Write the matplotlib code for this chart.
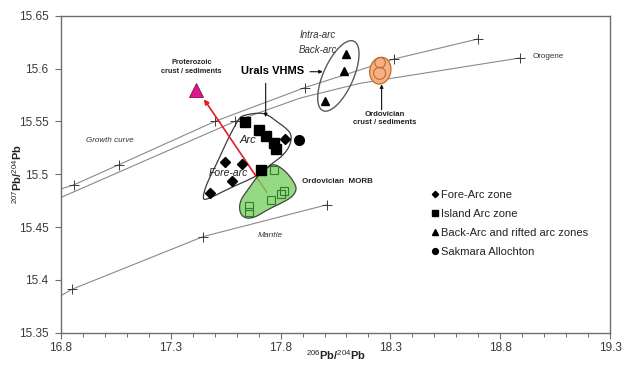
import numpy as np
import matplotlib
matplotlib.use('Agg')
import matplotlib.pyplot as plt
from matplotlib.patches import Polygon
from matplotlib.lines import Line2D
from matplotlib.ticker import FixedLocator, MultipleLocator

plt.rcParams['font.family'] = ['Liberation Sans', 'DejaVu Sans']
plt.rcParams['mathtext.fontset'] = 'custom'
plt.rcParams['mathtext.rm'] = 'Liberation Sans'
plt.rcParams['mathtext.bf'] = 'Liberation Sans:bold'

# ---- data ----
forearc_x = [17.479, 17.545, 17.577, 17.624, 17.819]
forearc_y = [15.482, 15.512, 15.494, 15.510, 15.533]

islandarc_x = [17.638, 17.700, 17.734, 17.769, 17.778, 17.712]
islandarc_y = [15.549, 15.542, 15.536, 15.530, 15.524, 15.504]

backarc_x = [18.098, 18.087, 18.000]
backarc_y = [15.614, 15.598, 15.569]

sakmara_x = [17.882]
sakmara_y = [15.532]

morb_x = [17.769, 17.814, 17.802, 17.756, 17.656, 17.656]
morb_y = [15.504, 15.484, 15.481, 15.476, 15.470, 15.464]

proterozoic_x = [17.413]
proterozoic_y = [15.580]

# growth curves (vertices, and which ones carry a "+")
growth_x = [16.80, 16.859, 17.064, 17.501, 17.911, 18.316, 18.699]
growth_y = [15.486, 15.490, 15.509, 15.550, 15.582, 15.609, 15.628]
growth_mark = [1, 2, 3, 4, 5, 6]

orogene_x = [16.80, 17.592, 17.888, 18.162, 18.890]
orogene_y = [15.478, 15.550, 15.572, 15.586, 15.610]
orogene_mark = [1, 4]

mantle_x = [16.80, 16.849, 17.448, 18.010]
mantle_y = [15.385, 15.391, 15.441, 15.471]
mantle_mark = [1, 2, 3]

# outlines of the fields
arc_field_x = [17.638, 17.691, 17.737, 17.782, 17.828, 17.851, 17.843, 17.812, 17.774,
               17.729, 17.691, 17.570, 17.456, 17.445, 17.463, 17.509, 17.555, 17.592, 17.615]
arc_field_y = [15.556, 15.558, 15.557, 15.550, 15.543, 15.537, 15.527, 15.518, 15.512,
               15.505, 15.498, 15.487, 15.475, 15.478, 15.491, 15.510, 15.531, 15.546, 15.554]

morb_field_x = [17.774, 17.828, 17.866, 17.873, 17.851, 17.797, 17.737, 17.683, 17.638,
                17.612, 17.615, 17.653, 17.698, 17.744]
morb_field_y = [15.510, 15.502, 15.491, 15.485, 15.478, 15.472, 15.466, 15.459, 15.458,
                15.464, 15.475, 15.486, 15.499, 15.507]

xlim = (16.8, 19.3)
ylim = (15.35, 15.65)
xticks = [16.8, 17.3, 17.8, 18.3, 18.8, 19.3]
xtick_labels = ['16.8', '17.3', '17.8', '18.3', '18.8', '19.3']
yticks = [15.35, 15.40, 15.45, 15.50, 15.55, 15.60, 15.65]
ytick_labels = ['15.35', '15.4', '15.45', '15.5', '15.55', '15.6', '15.65']

legend_labels = ['Fore-Arc zone', 'Island Arc zone', 'Back-Arc and rifted arc zones',
                 'Sakmara Allochton']


def chaikin(xs, ys, n=3):
    # smooth a closed outline
    p = np.column_stack([xs, ys])
    for _ in range(n):
        q = np.roll(p, -1, axis=0)
        p = np.stack([0.75 * p + 0.25 * q, 0.25 * p + 0.75 * q], axis=1).reshape(-1, 2)
    return p


fig = plt.figure(figsize=(6.33, 3.65), dpi=100)
ax = fig.add_axes([0.09637, 0.08849, 0.86730, 0.86849])
ax.set_xlim(*xlim)
ax.set_ylim(*ylim)

w_px = fig.get_figwidth() * fig.dpi * ax.get_position().width
h_px = fig.get_figheight() * fig.dpi * ax.get_position().height
sx = (xlim[1] - xlim[0]) / w_px
sy = (ylim[1] - ylim[0]) / h_px


def ellipse_xy(cx, cy, a, b, angle, n=90):
    # ellipse sized in pixels around a data point
    t = np.linspace(0, 2 * np.pi, n)
    th = np.radians(angle)
    dx = a * np.cos(t) * np.cos(th) - b * np.sin(t) * np.sin(th)
    dy = a * np.cos(t) * np.sin(th) + b * np.sin(t) * np.cos(th)
    return np.column_stack([cx + dx * sx, cy + dy * sy])


line_c = '#8a8a8a'
cross_c = '#3a3a3a'
for cx_, cy_, mk in [(growth_x, growth_y, growth_mark),
                     (orogene_x, orogene_y, orogene_mark),
                     (mantle_x, mantle_y, mantle_mark)]:
    ax.plot(cx_, cy_, color=line_c, lw=0.8, zorder=2)
    ax.plot(np.array(cx_)[mk], np.array(cy_)[mk], ls='none', marker='+', ms=7,
            mew=0.7, color=cross_c, zorder=3)

# fields
arc_poly = Polygon(chaikin(arc_field_x, arc_field_y), closed=True, fill=False,
                   edgecolor='#3c3c3c', lw=0.9, zorder=3)
ax.add_patch(arc_poly)

# red arrow (drawn under the MORB field)
ax.annotate('', xy=(17.451, 15.571), xytext=(17.737, 15.483),
            arrowprops=dict(arrowstyle='-|>', color='#e02020', lw=1.2,
                            mutation_scale=7, shrinkA=0, shrinkB=0), zorder=4)

morb_poly = Polygon(chaikin(morb_field_x, morb_field_y), closed=True,
                    facecolor='#7cd066', alpha=0.8, edgecolor='#1e1e1e', lw=0.9, zorder=5)
ax.add_patch(morb_poly)

backarc_ell = Polygon(ellipse_xy(18.063, 15.593, 38, 15, 66), closed=True, fill=False,
                      edgecolor='#5a5a5a', lw=1.0, zorder=3)
ax.add_patch(backarc_ell)

ord_ell = Polygon(ellipse_xy(18.254, 15.598, 13.5, 10.5, 78), closed=True,
                  facecolor='#f4b183', edgecolor='#c0692c', lw=0.9, zorder=4)
ax.add_patch(ord_ell)
for ccx, ccy, r in [(18.253, 15.6055, 5.2), (18.251, 15.5955, 6.0)]:
    ax.add_patch(Polygon(ellipse_xy(ccx, ccy, r, r, 0), closed=True, fill=False,
                         edgecolor='#c0692c', lw=0.8, zorder=4))

# samples
ax.plot(morb_x, morb_y, ls='none', marker='s', ms=5.5, mfc='none', mec='#2f7d2a',
        mew=0.8, zorder=6)
ax.plot(forearc_x, forearc_y, ls='none', marker='D', ms=5.5, color='black', zorder=7)
ax.plot(islandarc_x, islandarc_y, ls='none', marker='s', ms=6.5, color='black', zorder=7)
ax.plot(backarc_x, backarc_y, ls='none', marker='^', ms=5.5, color='black', zorder=7)
ax.plot(sakmara_x, sakmara_y, ls='none', marker='o', ms=7, color='black', zorder=7)
ax.plot(proterozoic_x, proterozoic_y, ls='none', marker='^', ms=10, mfc='#e0168a',
        mec='#7a1050', mew=0.6, zorder=7)

# labels
txt = '#222222'
ax.text(17.023, 15.532, 'Growth curve', fontsize=5.8, style='italic', color='#333333',
        ha='center', va='center')
ax.text(17.752, 15.442, 'Mantle', fontsize=6, style='italic', color='#333333',
        ha='center', va='center')
ax.text(18.948, 15.611, 'Orogene', fontsize=5.8, color='#333333', ha='left', va='center')
ax.text(17.970, 15.6245, 'Intra-arc\nBack-arc', fontsize=7, style='italic', color='#333333',
        ha='center', va='center', linespacing=1.7)
ax.text(17.652, 15.532, 'Arc', fontsize=8, style='italic', color=txt, ha='center',
        va='center', zorder=8)
ax.text(17.562, 15.501, 'Fore-arc', fontsize=7.5, style='italic', color=txt,
        ha='center', va='center', zorder=8)
ax.text(17.395, 15.6015, 'Proterozoic\ncrust / sediments', fontsize=5.3, weight='bold',
        color=txt, ha='center', va='center', linespacing=1.5)
ax.text(18.275, 15.5525, 'Ordovician\ncrust / sediments', fontsize=5.6, weight='bold',
        color=txt, ha='center', va='center', linespacing=1.3)
ax.text(17.896, 15.493, 'Ordovician  MORB', fontsize=5.8, weight='bold', color=txt,
        ha='left', va='center')
ax.text(17.764, 15.598, 'Urals VHMS', fontsize=8, weight='bold', color='black',
        ha='center', va='center')

arrow_kw = dict(arrowstyle='-|>', color='#111111', lw=0.8, mutation_scale=5,
                shrinkA=0, shrinkB=0)
ax.annotate('', xy=(17.732, 15.554), xytext=(17.732, 15.586), arrowprops=arrow_kw)
ax.annotate('', xy=(17.992, 15.597), xytext=(17.934, 15.597), arrowprops=arrow_kw)
ax.annotate('', xy=(18.260, 15.585), xytext=(18.260, 15.561), arrowprops=arrow_kw)

# legend
handles = [Line2D([], [], ls='none', marker='D', ms=3.2, color='black'),
           Line2D([], [], ls='none', marker='s', ms=4, color='black'),
           Line2D([], [], ls='none', marker='^', ms=4, color='black'),
           Line2D([], [], ls='none', marker='o', ms=4.2, color='black')]
ax.legend(handles, legend_labels, loc='upper left', bbox_to_anchor=(0.675, 0.450),
          frameon=False, fontsize=8, handlelength=0.6, handletextpad=0.25,
          labelspacing=0.82, borderpad=0, borderaxespad=0, labelcolor='#222222')

# axes styling
for s in ax.spines.values():
    s.set_color('#6e6e6e')
    s.set_linewidth(1.0)
ax.xaxis.set_major_locator(FixedLocator(xticks))
ax.set_xticklabels(xtick_labels)
ax.xaxis.set_minor_locator(MultipleLocator(0.1))
ax.yaxis.set_major_locator(FixedLocator(yticks))
ax.set_yticklabels(ytick_labels)
ax.tick_params(axis='both', which='major', direction='out', length=4, width=0.8,
               color='#6e6e6e', labelsize=8.5, labelcolor='#3a3a3a', pad=3)
ax.tick_params(axis='y', which='major', pad=5)
ax.tick_params(axis='x', which='minor', direction='out', length=3, width=0.7,
               color='#6e6e6e')
ax.tick_params(axis='y', which='minor', left=False)

ax.set_xlabel('$^{206}$Pb/$^{204}$Pb', fontsize=8, weight='bold', color='#222222')
ax.xaxis.set_label_coords(0.5, -0.05)
ax.set_ylabel('$^{207}$Pb/$^{204}$Pb', fontsize=8, weight='bold', color='#222222')
ax.yaxis.set_label_coords(-0.068, 0.5)

fig.savefig('out.png', dpi=100)
